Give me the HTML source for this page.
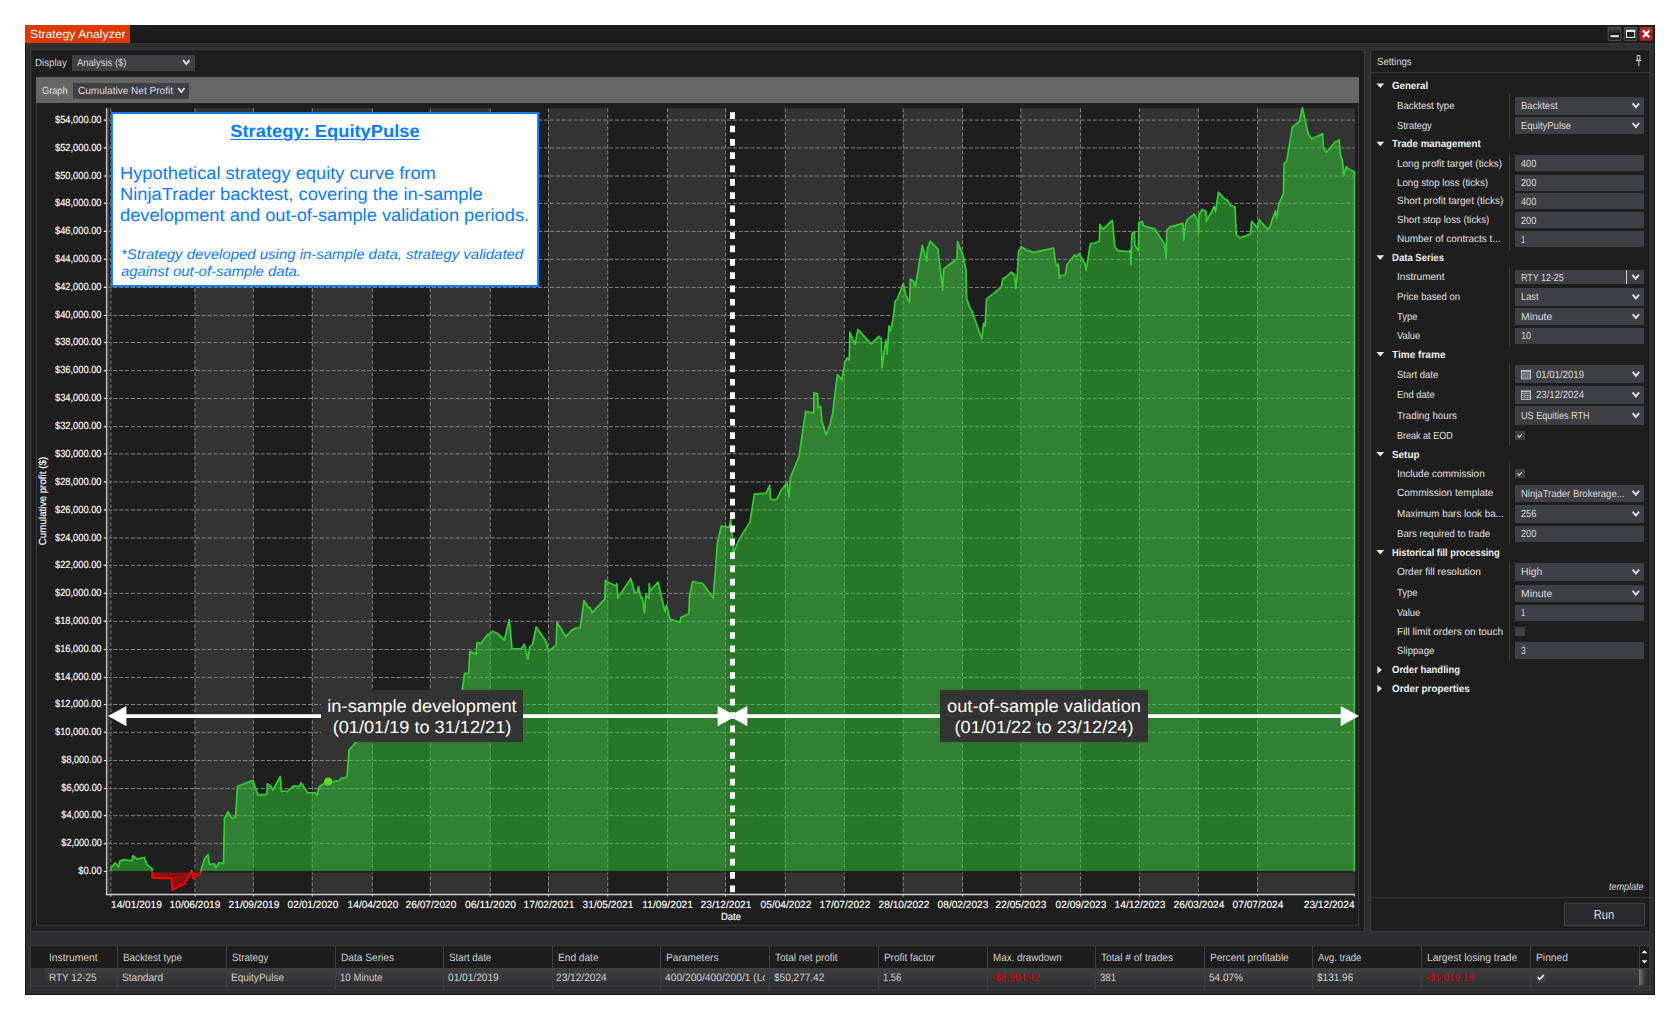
<!DOCTYPE html>
<html lang="en"><head><meta charset="utf-8"><title>Strategy Analyzer</title>
<style>
html,body{margin:0;padding:0;background:#ffffff;}
body{width:1680px;height:1020px;position:relative;overflow:hidden;font-family:"Liberation Sans","DejaVu Sans",sans-serif;}
body>div,body>svg,body>span{position:absolute;}
.t{white-space:nowrap;display:block;text-rendering:geometricPrecision;}
.w{-webkit-text-stroke:0.15px #ffffff;}
</style></head><body>
<div style="left:25.00px;top:25.00px;width:1630.00px;height:969.80px;background:#2e2e31;box-shadow:inset 0 0 0 1px #151516;"></div>
<div style="left:25.00px;top:25.00px;width:1630.00px;height:17.70px;background:#1c1c1c;"></div>
<div style="left:26.00px;top:42.70px;width:1628.00px;height:1.30px;background:#37373a;"></div>
<div style="left:25.00px;top:25.00px;width:105.00px;height:18.20px;background:#dc3a00;"></div>
<span class="t" style="font-size:11.8px;line-height:15px;top:27.00px;color:#ffffff;left:29.60px;transform-origin:0 50%;transform:scaleX(1.0339);">Strategy Analyzer</span>
<svg style="left:1606px;top:25px" width="49" height="18" viewBox="1606 25 49 18">
<defs>
<linearGradient id="gb" x1="0" y1="0" x2="0" y2="1"><stop offset="0" stop-color="#4c4c4e"/><stop offset="0.5" stop-color="#1d1d1e"/><stop offset="1" stop-color="#2c2c2d"/></linearGradient>
<linearGradient id="gr" x1="0" y1="0" x2="0" y2="1"><stop offset="0" stop-color="#c4343e"/><stop offset="0.5" stop-color="#a8121c"/><stop offset="1" stop-color="#b52732"/></linearGradient>
</defs>
<rect x="1608.2" y="27.2" width="12.8" height="13.4" rx="1" fill="url(#gb)" stroke="#5c5c5e" stroke-width="0.8"/>
<rect x="1624.2" y="27.2" width="12.8" height="13.4" rx="1" fill="url(#gb)" stroke="#5c5c5e" stroke-width="0.8"/>
<rect x="1639.8" y="27.2" width="12.8" height="13.4" rx="1" fill="url(#gr)" stroke="#7a3038" stroke-width="0.8"/>
<rect x="1610.6" y="35.2" width="8.2" height="1.9" fill="#f4f4f4"/>
<rect x="1626.5" y="30.4" width="8.2" height="7" fill="none" stroke="#f4f4f4" stroke-width="1"/>
<rect x="1626" y="29.9" width="9.2" height="2" fill="#f4f4f4"/>
<path d="M1643 30.6 L1649.4 37.2 M1649.4 30.6 L1643 37.2" stroke="#ffffff" stroke-width="2.2"/>
</svg>
<div style="left:30.00px;top:48.70px;width:1335.00px;height:883.00px;background:#1e1e1e;box-shadow:inset 0 0 0 1.3px #38383b;"></div>
<span class="t" style="font-size:10.3px;line-height:13px;top:57.00px;color:#dcdcdc;left:35.10px;transform-origin:0 50%;transform:scaleX(0.9418);">Display</span>
<div style="left:72.00px;top:54.50px;width:123.20px;height:16.50px;background:#3f3f46;"></div>
<span class="t" style="font-size:10.3px;line-height:13px;top:57.00px;color:#dcdcdc;left:76.80px;transform-origin:0 50%;transform:scaleX(0.9201);">Analysis ($)</span>
<div style="left:36.00px;top:77.00px;width:1323.00px;height:848.80px;background:#1e1e1e;box-shadow:inset 0 0 0 1px #3a3a3c;"></div>
<div style="left:36.00px;top:77.10px;width:1322.90px;height:26.20px;background:#666666;"></div>
<span class="t" style="font-size:10.3px;line-height:13px;top:85.00px;color:#e0e0e0;left:41.60px;transform-origin:0 50%;transform:scaleX(0.8943);">Graph</span>
<div style="left:72.90px;top:82.60px;width:116.10px;height:16.10px;background:#3f3f46;"></div>
<span class="t" style="font-size:10.3px;line-height:13px;top:85.00px;color:#dcdcdc;left:77.60px;transform-origin:0 50%;transform:scaleX(0.9764);">Cumulative Net Profit</span>
<svg style="left:0;top:0" width="1680" height="1020" viewBox="0 0 1680 1020">
<rect x="195.0" y="108.3" width="58.30" height="785.50" fill="#333333"/>
<rect x="312.3" y="108.3" width="60.00" height="785.50" fill="#333333"/>
<rect x="430.3" y="108.3" width="59.90" height="785.50" fill="#333333"/>
<rect x="548.5" y="108.3" width="59.20" height="785.50" fill="#333333"/>
<rect x="667.4" y="108.3" width="58.20" height="785.50" fill="#333333"/>
<rect x="785.3" y="108.3" width="59.00" height="785.50" fill="#333333"/>
<rect x="903.2" y="108.3" width="59.30" height="785.50" fill="#333333"/>
<rect x="1020.9" y="108.3" width="59.70" height="785.50" fill="#333333"/>
<rect x="1139.4" y="108.3" width="58.90" height="785.50" fill="#333333"/>
<rect x="1257.6" y="108.3" width="97.30" height="785.50" fill="#333333"/>
<path d="M107.4 843.6H1354.9M107.4 815.7H1354.9M107.4 788.5H1354.9M107.4 760.5H1354.9M107.4 732.4H1354.9M107.4 704.5H1354.9M107.4 677.5H1354.9M107.4 649.5H1354.9M107.4 621.4H1354.9M107.4 593.4H1354.9M107.4 565.4H1354.9M107.4 538.0H1354.9M107.4 509.9H1354.9M107.4 481.9H1354.9M107.4 453.85H1354.9M107.4 426.6H1354.9M107.4 398.5H1354.9M107.4 370.6H1354.9M107.4 342.5H1354.9M107.4 315.5H1354.9M107.4 287.45H1354.9M107.4 259.4H1354.9M107.4 231.45H1354.9M107.4 203.4H1354.9M107.4 176.0H1354.9M107.4 147.9H1354.9M107.4 120.05H1354.9" stroke="#848484" stroke-width="1" stroke-dasharray="4.05 1.85" fill="none"/>
<path d="M110.85 108.3V893.8M195.0 108.3V893.8M253.3 108.3V893.8M312.3 108.3V893.8M372.3 108.3V893.8M430.3 108.3V893.8M490.2 108.3V893.8M548.5 108.3V893.8M607.7 108.3V893.8M667.4 108.3V893.8M725.6 108.3V893.8M785.3 108.3V893.8M844.3 108.3V893.8M903.2 108.3V893.8M962.5 108.3V893.8M1020.9 108.3V893.8M1080.6 108.3V893.8M1139.4 108.3V893.8M1198.3 108.3V893.8M1257.6 108.3V893.8" stroke="#828282" stroke-width="1" stroke-dasharray="4.0 2.0" fill="none"/>
<path d="M110.4 871.5 L110.4 870.7 L111.4 867.1 L115.2 863.0 L118.8 867.1 L119.7 861.1 L123.9 859.6 L132.0 860.9 L133.0 855.6 L136.9 859.2 L144.2 857.5 L147.1 864.9 L152.1 868.8 L152.1 871.5 L152.1 871.5 L163.6 871.5 L171.5 871.5 L172.2 871.5 L179.5 871.5 L184.3 871.5 L190.6 871.5 L191.7 870.7 L192.7 871.5 L199.6 871.5 L200.6 871.5 L204.6 858.8 L208.2 854.5 L209.2 864.3 L214.6 863.9 L215.6 868.1 L219.0 862.6 L223.5 863.7 L224.5 818.2 L228.0 811.8 L231.8 818.2 L235.6 817.1 L237.5 786.2 L252.8 780.4 L257.7 794.5 L266.8 794.5 L267.5 783.8 L270.7 785.9 L272.9 790.1 L280.2 776.6 L281.5 791.7 L284.0 791.0 L287.2 791.7 L293.6 785.9 L299.7 786.3 L301.0 782.7 L307.6 792.7 L315.2 792.8 L317.1 795.3 L319.3 786.8 L324.1 783.5 L328.2 781.6 L332.4 781.6 L339.4 780.7 L341.3 778.4 L347.1 777.1 L349.0 750.1 L356.0 742.1 L462.3 690.3 L464.5 673.7 L468.7 673.1 L469.9 651.2 L476.3 654.1 L477.0 642.6 L480.8 643.5 L487.8 634.3 L489.1 634.6 L492.9 631.2 L498.0 634.0 L504.4 640.0 L509.2 619.6 L512.0 648.6 L520.9 648.9 L524.4 644.2 L527.9 659.4 L529.8 646.7 L532.4 645.0 L536.2 627.0 L545.8 641.0 L548.6 651.4 L556.2 645.0 L557.0 622.1 L565.8 636.5 L571.9 630.1 L576.3 628.0 L580.2 627.8 L584.0 600.6 L588.5 607.8 L589.7 607.2 L592.3 612.6 L605.0 598.8 L605.3 580.5 L610.4 583.5 L616.1 586.0 L616.8 583.5 L617.8 598.1 L630.8 578.4 L634.6 592.6 L637.4 592.4 L638.4 586.4 L641.0 598.1 L642.2 597.5 L644.5 612.8 L645.8 594.9 L648.9 598.5 L649.3 583.5 L649.9 591.1 L658.2 582.2 L664.9 611.5 L666.5 605.1 L670.0 619.1 L680.2 622.3 L680.7 617.5 L688.8 613.8 L689.6 595.6 L692.6 581.6 L702.8 583.7 L713.3 598.1 L717.4 543.3 L721.2 526.1 L729.2 527.4 L730.8 519.8 L733.4 552.9 L739.1 539.5 L749.9 522.3 L754.4 494.2 L766.1 493.2 L769.7 485.3 L770.3 499.3 L776.7 499.6 L780.9 490.7 L786.9 483.0 L789.1 496.8 L790.3 477.9 L799.0 456.9 L805.6 411.7 L813.7 412.9 L814.0 392.8 L817.5 393.8 L818.1 407.8 L820.7 406.6 L821.9 421.2 L826.0 434.9 L829.8 425.7 L832.8 412.9 L834.2 400.0 L837.4 374.7 L841.9 379.8 L845.0 362.4 L847.0 357.9 L849.2 360.2 L849.9 332.4 L854.9 344.3 L858.0 329.5 L871.2 343.9 L878.8 336.5 L881.4 338.8 L882.0 367.9 L885.8 339.8 L887.1 354.1 L889.0 326.1 L890.5 330.9 L893.1 319.1 L895.1 301.0 L897.0 299.9 L903.2 283.7 L906.1 296.4 L909.6 302.4 L910.4 279.2 L913.4 281.1 L915.3 286.8 L922.3 245.4 L926.8 261.4 L927.4 248.6 L930.2 241.2 L937.8 248.9 L942.7 290.0 L943.6 269.0 L957.0 258.8 L957.6 241.6 L963.3 256.3 L966.0 270.3 L966.5 298.3 L969.4 306.6 L972.6 313.0 L981.8 338.8 L983.6 323.3 L985.2 326.1 L986.5 299.1 L1001.3 287.1 L1003.0 278.2 L1005.1 277.9 L1011.5 272.2 L1013.4 274.4 L1014.4 274.1 L1015.7 288.4 L1017.2 276.7 L1018.5 251.8 L1021.4 246.7 L1026.2 249.9 L1033.2 252.4 L1053.5 248.2 L1055.7 263.3 L1058.0 267.1 L1058.4 263.9 L1059.3 278.2 L1060.6 275.4 L1065.3 275.1 L1066.9 264.5 L1074.6 255.0 L1075.8 256.9 L1079.4 253.7 L1085.4 265.2 L1086.0 270.3 L1090.5 243.5 L1095.0 243.1 L1099.4 241.2 L1099.8 224.4 L1102.7 229.3 L1112.3 220.5 L1114.8 246.8 L1117.8 250.7 L1129.2 251.6 L1130.5 250.0 L1131.0 264.7 L1131.8 234.1 L1134.3 231.6 L1134.9 245.6 L1138.4 250.7 L1138.8 222.6 L1142.2 221.4 L1143.5 225.8 L1154.7 228.8 L1164.5 244.3 L1166.1 257.7 L1166.8 230.0 L1170.3 226.8 L1183.0 223.3 L1183.7 239.8 L1185.6 224.5 L1187.5 219.4 L1194.2 214.1 L1198.1 221.4 L1198.6 233.5 L1199.0 215.0 L1202.1 209.5 L1206.0 211.2 L1206.6 221.0 L1214.2 206.5 L1215.5 211.8 L1218.4 192.4 L1225.1 199.4 L1227.0 199.7 L1230.2 205.0 L1235.0 207.1 L1236.3 234.7 L1239.7 237.9 L1250.6 234.1 L1251.6 221.4 L1257.6 228.0 L1259.2 219.8 L1267.8 229.6 L1269.7 227.1 L1275.4 210.9 L1276.7 218.2 L1278.6 204.8 L1283.5 193.1 L1284.1 163.2 L1286.7 161.3 L1292.4 126.9 L1299.4 121.5 L1302.3 107.7 L1308.3 133.9 L1311.9 138.7 L1322.6 133.9 L1323.3 147.9 L1326.4 152.3 L1335.1 142.1 L1339.2 139.9 L1340.2 154.9 L1342.5 160.9 L1343.7 175.3 L1346.3 166.6 L1347.8 168.7 L1354.3 171.8 L1354.3 871.5 Z" fill="rgba(50,205,50,0.5)"/>
<path d="M152.1 871.5 L152.1 871.6 L152.1 877.7 L163.6 878.3 L171.5 878.1 L172.2 890.2 L179.5 886.0 L184.3 884.3 L190.6 872.6 L191.2 871.5 Z" fill="rgba(255,0,0,0.5)"/>
<path d="M191.8 871.5 L192.7 878.3 L199.6 874.7 L200.6 871.6 L200.6 871.5 Z" fill="rgba(255,0,0,0.5)"/>
<path d="M107.4 871.7H1354.9" stroke="#1d1e1d" stroke-width="1.4" fill="none"/>
<path d="M110.4 871.5 L110.4 870.7 L111.4 867.1 L115.2 863.0 L118.8 867.1 L119.7 861.1 L123.9 859.6 L132.0 860.9 L133.0 855.6 L136.9 859.2 L144.2 857.5 L147.1 864.9 L152.1 868.8 L152.1 871.5" fill="none" stroke="#32cd32" stroke-width="1.75" stroke-linejoin="round"/>
<path d="M152.1 871.5 L152.1 871.6 L152.1 877.7 L163.6 878.3 L171.5 878.1 L172.2 890.2 L179.5 886.0 L184.3 884.3 L190.6 872.6 L191.2 871.5" fill="none" stroke="#ff0000" stroke-width="1.9" stroke-linejoin="round"/>
<path d="M191.2 871.5 L191.7 870.7 L191.8 871.5" fill="none" stroke="#32cd32" stroke-width="1.75" stroke-linejoin="round"/>
<path d="M191.8 871.5 L192.7 878.3 L199.6 874.7 L200.6 871.6 L200.6 871.5" fill="none" stroke="#ff0000" stroke-width="1.9" stroke-linejoin="round"/>
<path d="M200.6 871.5 L204.6 858.8 L208.2 854.5 L209.2 864.3 L214.6 863.9 L215.6 868.1 L219.0 862.6 L223.5 863.7 L224.5 818.2 L228.0 811.8 L231.8 818.2 L235.6 817.1 L237.5 786.2 L252.8 780.4 L257.7 794.5 L266.8 794.5 L267.5 783.8 L270.7 785.9 L272.9 790.1 L280.2 776.6 L281.5 791.7 L284.0 791.0 L287.2 791.7 L293.6 785.9 L299.7 786.3 L301.0 782.7 L307.6 792.7 L315.2 792.8 L317.1 795.3 L319.3 786.8 L324.1 783.5 L328.2 781.6 L332.4 781.6 L339.4 780.7 L341.3 778.4 L347.1 777.1 L349.0 750.1 L356.0 742.1 L462.3 690.3 L464.5 673.7 L468.7 673.1 L469.9 651.2 L476.3 654.1 L477.0 642.6 L480.8 643.5 L487.8 634.3 L489.1 634.6 L492.9 631.2 L498.0 634.0 L504.4 640.0 L509.2 619.6 L512.0 648.6 L520.9 648.9 L524.4 644.2 L527.9 659.4 L529.8 646.7 L532.4 645.0 L536.2 627.0 L545.8 641.0 L548.6 651.4 L556.2 645.0 L557.0 622.1 L565.8 636.5 L571.9 630.1 L576.3 628.0 L580.2 627.8 L584.0 600.6 L588.5 607.8 L589.7 607.2 L592.3 612.6 L605.0 598.8 L605.3 580.5 L610.4 583.5 L616.1 586.0 L616.8 583.5 L617.8 598.1 L630.8 578.4 L634.6 592.6 L637.4 592.4 L638.4 586.4 L641.0 598.1 L642.2 597.5 L644.5 612.8 L645.8 594.9 L648.9 598.5 L649.3 583.5 L649.9 591.1 L658.2 582.2 L664.9 611.5 L666.5 605.1 L670.0 619.1 L680.2 622.3 L680.7 617.5 L688.8 613.8 L689.6 595.6 L692.6 581.6 L702.8 583.7 L713.3 598.1 L717.4 543.3 L721.2 526.1 L729.2 527.4 L730.8 519.8 L733.4 552.9 L739.1 539.5 L749.9 522.3 L754.4 494.2 L766.1 493.2 L769.7 485.3 L770.3 499.3 L776.7 499.6 L780.9 490.7 L786.9 483.0 L789.1 496.8 L790.3 477.9 L799.0 456.9 L805.6 411.7 L813.7 412.9 L814.0 392.8 L817.5 393.8 L818.1 407.8 L820.7 406.6 L821.9 421.2 L826.0 434.9 L829.8 425.7 L832.8 412.9 L834.2 400.0 L837.4 374.7 L841.9 379.8 L845.0 362.4 L847.0 357.9 L849.2 360.2 L849.9 332.4 L854.9 344.3 L858.0 329.5 L871.2 343.9 L878.8 336.5 L881.4 338.8 L882.0 367.9 L885.8 339.8 L887.1 354.1 L889.0 326.1 L890.5 330.9 L893.1 319.1 L895.1 301.0 L897.0 299.9 L903.2 283.7 L906.1 296.4 L909.6 302.4 L910.4 279.2 L913.4 281.1 L915.3 286.8 L922.3 245.4 L926.8 261.4 L927.4 248.6 L930.2 241.2 L937.8 248.9 L942.7 290.0 L943.6 269.0 L957.0 258.8 L957.6 241.6 L963.3 256.3 L966.0 270.3 L966.5 298.3 L969.4 306.6 L972.6 313.0 L981.8 338.8 L983.6 323.3 L985.2 326.1 L986.5 299.1 L1001.3 287.1 L1003.0 278.2 L1005.1 277.9 L1011.5 272.2 L1013.4 274.4 L1014.4 274.1 L1015.7 288.4 L1017.2 276.7 L1018.5 251.8 L1021.4 246.7 L1026.2 249.9 L1033.2 252.4 L1053.5 248.2 L1055.7 263.3 L1058.0 267.1 L1058.4 263.9 L1059.3 278.2 L1060.6 275.4 L1065.3 275.1 L1066.9 264.5 L1074.6 255.0 L1075.8 256.9 L1079.4 253.7 L1085.4 265.2 L1086.0 270.3 L1090.5 243.5 L1095.0 243.1 L1099.4 241.2 L1099.8 224.4 L1102.7 229.3 L1112.3 220.5 L1114.8 246.8 L1117.8 250.7 L1129.2 251.6 L1130.5 250.0 L1131.0 264.7 L1131.8 234.1 L1134.3 231.6 L1134.9 245.6 L1138.4 250.7 L1138.8 222.6 L1142.2 221.4 L1143.5 225.8 L1154.7 228.8 L1164.5 244.3 L1166.1 257.7 L1166.8 230.0 L1170.3 226.8 L1183.0 223.3 L1183.7 239.8 L1185.6 224.5 L1187.5 219.4 L1194.2 214.1 L1198.1 221.4 L1198.6 233.5 L1199.0 215.0 L1202.1 209.5 L1206.0 211.2 L1206.6 221.0 L1214.2 206.5 L1215.5 211.8 L1218.4 192.4 L1225.1 199.4 L1227.0 199.7 L1230.2 205.0 L1235.0 207.1 L1236.3 234.7 L1239.7 237.9 L1250.6 234.1 L1251.6 221.4 L1257.6 228.0 L1259.2 219.8 L1267.8 229.6 L1269.7 227.1 L1275.4 210.9 L1276.7 218.2 L1278.6 204.8 L1283.5 193.1 L1284.1 163.2 L1286.7 161.3 L1292.4 126.9 L1299.4 121.5 L1302.3 107.7 L1308.3 133.9 L1311.9 138.7 L1322.6 133.9 L1323.3 147.9 L1326.4 152.3 L1335.1 142.1 L1339.2 139.9 L1340.2 154.9 L1342.5 160.9 L1343.7 175.3 L1346.3 166.6 L1347.8 168.7 L1354.3 171.8 L1354.3 871.5" fill="none" stroke="#32cd32" stroke-width="1.75" stroke-linejoin="round"/>
<circle cx="328.2" cy="781.6" r="4" fill="#62d926"/>
<path d="M106.65 108.3V895.2" stroke="#c4c4c4" stroke-width="1.5" fill="none"/>
<path d="M108.2 108.3V893.5" stroke="#484848" stroke-width="1.4" fill="none"/>
<path d="M105.9 894.5H1354.9" stroke="#d0d0d0" stroke-width="1.5" fill="none"/>
<path d="M103.8 871.5H106M103.8 843.6H106M103.8 815.7H106M103.8 788.5H106M103.8 760.5H106M103.8 732.4H106M103.8 704.5H106M103.8 677.5H106M103.8 649.5H106M103.8 621.4H106M103.8 593.4H106M103.8 565.4H106M103.8 538.0H106M103.8 509.9H106M103.8 481.9H106M103.8 453.85H106M103.8 426.6H106M103.8 398.5H106M103.8 370.6H106M103.8 342.5H106M103.8 315.5H106M103.8 287.45H106M103.8 259.4H106M103.8 231.45H106M103.8 203.4H106M103.8 176.0H106M103.8 147.9H106M103.8 120.05H106" stroke="#f0f0f0" stroke-width="1.2" fill="none"/>
<path d="M110.85 895H110.85V896.6M195.0 895H195.0V896.6M253.3 895H253.3V896.6M312.3 895H312.3V896.6M372.3 895H372.3V896.6M430.3 895H430.3V896.6M490.2 895H490.2V896.6M548.5 895H548.5V896.6M607.7 895H607.7V896.6M667.4 895H667.4V896.6M725.6 895H725.6V896.6M785.3 895H785.3V896.6M844.3 895H844.3V896.6M903.2 895H903.2V896.6M962.5 895H962.5V896.6M1020.9 895H1020.9V896.6M1080.6 895H1080.6V896.6M1139.4 895H1139.4V896.6M1198.3 895H1198.3V896.6M1257.6 895H1257.6V896.6M1354.4 895H1354.4V896.6" stroke="#d0d0d0" stroke-width="1" fill="none"/>
<path d="M732.5 112.3V892.4" stroke="#ffffff" stroke-width="5" stroke-dasharray="6.7 6.63" fill="none"/>
<path d="M121 716.1H321.5M523 716.1H722M743 716.1H940M1147.5 716.1H1345" stroke="#ffffff" stroke-width="3.9" fill="none"/>
<path d="M108 716.1L126.4 705.9V726.3Z M1359 716.1L1340.7 705.9V726.3Z M736 716.1L717.65 705.9V726.3Z M729 716.1L747.35 705.9V726.3Z" fill="#ffffff"/>
</svg>
<span class="t w" style="font-size:10.3px;line-height:13px;top:865.00px;color:#ffffff;right:1578.70px;transform-origin:100% 50%;transform:scaleX(0.9115);">$0.00</span>
<span class="t w" style="font-size:10.3px;line-height:13px;top:837.00px;color:#ffffff;right:1578.70px;transform-origin:100% 50%;transform:scaleX(0.8840);">$2,000.00</span>
<span class="t w" style="font-size:10.3px;line-height:13px;top:809.00px;color:#ffffff;right:1578.70px;transform-origin:100% 50%;transform:scaleX(0.8840);">$4,000.00</span>
<span class="t w" style="font-size:10.3px;line-height:13px;top:782.00px;color:#ffffff;right:1578.70px;transform-origin:100% 50%;transform:scaleX(0.8840);">$6,000.00</span>
<span class="t w" style="font-size:10.3px;line-height:13px;top:754.00px;color:#ffffff;right:1578.70px;transform-origin:100% 50%;transform:scaleX(0.8840);">$8,000.00</span>
<span class="t w" style="font-size:10.3px;line-height:13px;top:726.00px;color:#ffffff;right:1578.70px;transform-origin:100% 50%;transform:scaleX(0.9040);">$10,000.00</span>
<span class="t w" style="font-size:10.3px;line-height:13px;top:698.00px;color:#ffffff;right:1578.70px;transform-origin:100% 50%;transform:scaleX(0.9040);">$12,000.00</span>
<span class="t w" style="font-size:10.3px;line-height:13px;top:671.00px;color:#ffffff;right:1578.70px;transform-origin:100% 50%;transform:scaleX(0.9040);">$14,000.00</span>
<span class="t w" style="font-size:10.3px;line-height:13px;top:643.00px;color:#ffffff;right:1578.70px;transform-origin:100% 50%;transform:scaleX(0.9040);">$16,000.00</span>
<span class="t w" style="font-size:10.3px;line-height:13px;top:615.00px;color:#ffffff;right:1578.70px;transform-origin:100% 50%;transform:scaleX(0.9040);">$18,000.00</span>
<span class="t w" style="font-size:10.3px;line-height:13px;top:587.00px;color:#ffffff;right:1578.70px;transform-origin:100% 50%;transform:scaleX(0.9040);">$20,000.00</span>
<span class="t w" style="font-size:10.3px;line-height:13px;top:559.00px;color:#ffffff;right:1578.70px;transform-origin:100% 50%;transform:scaleX(0.9040);">$22,000.00</span>
<span class="t w" style="font-size:10.3px;line-height:13px;top:532.00px;color:#ffffff;right:1578.70px;transform-origin:100% 50%;transform:scaleX(0.9040);">$24,000.00</span>
<span class="t w" style="font-size:10.3px;line-height:13px;top:504.00px;color:#ffffff;right:1578.70px;transform-origin:100% 50%;transform:scaleX(0.9040);">$26,000.00</span>
<span class="t w" style="font-size:10.3px;line-height:13px;top:476.00px;color:#ffffff;right:1578.70px;transform-origin:100% 50%;transform:scaleX(0.9040);">$28,000.00</span>
<span class="t w" style="font-size:10.3px;line-height:13px;top:448.00px;color:#ffffff;right:1578.70px;transform-origin:100% 50%;transform:scaleX(0.9040);">$30,000.00</span>
<span class="t w" style="font-size:10.3px;line-height:13px;top:420.00px;color:#ffffff;right:1578.70px;transform-origin:100% 50%;transform:scaleX(0.9040);">$32,000.00</span>
<span class="t w" style="font-size:10.3px;line-height:13px;top:392.00px;color:#ffffff;right:1578.70px;transform-origin:100% 50%;transform:scaleX(0.9040);">$34,000.00</span>
<span class="t w" style="font-size:10.3px;line-height:13px;top:364.00px;color:#ffffff;right:1578.70px;transform-origin:100% 50%;transform:scaleX(0.9040);">$36,000.00</span>
<span class="t w" style="font-size:10.3px;line-height:13px;top:336.00px;color:#ffffff;right:1578.70px;transform-origin:100% 50%;transform:scaleX(0.9040);">$38,000.00</span>
<span class="t w" style="font-size:10.3px;line-height:13px;top:309.00px;color:#ffffff;right:1578.70px;transform-origin:100% 50%;transform:scaleX(0.9040);">$40,000.00</span>
<span class="t w" style="font-size:10.3px;line-height:13px;top:281.00px;color:#ffffff;right:1578.70px;transform-origin:100% 50%;transform:scaleX(0.9040);">$42,000.00</span>
<span class="t w" style="font-size:10.3px;line-height:13px;top:253.00px;color:#ffffff;right:1578.70px;transform-origin:100% 50%;transform:scaleX(0.9040);">$44,000.00</span>
<span class="t w" style="font-size:10.3px;line-height:13px;top:225.00px;color:#ffffff;right:1578.70px;transform-origin:100% 50%;transform:scaleX(0.9040);">$46,000.00</span>
<span class="t w" style="font-size:10.3px;line-height:13px;top:197.00px;color:#ffffff;right:1578.70px;transform-origin:100% 50%;transform:scaleX(0.9040);">$48,000.00</span>
<span class="t w" style="font-size:10.3px;line-height:13px;top:170.00px;color:#ffffff;right:1578.70px;transform-origin:100% 50%;transform:scaleX(0.9040);">$50,000.00</span>
<span class="t w" style="font-size:10.3px;line-height:13px;top:142.00px;color:#ffffff;right:1578.70px;transform-origin:100% 50%;transform:scaleX(0.9040);">$52,000.00</span>
<span class="t w" style="font-size:10.3px;line-height:13px;top:114.00px;color:#ffffff;right:1578.70px;transform-origin:100% 50%;transform:scaleX(0.9040);">$54,000.00</span>
<span class="t w" style="font-size:10.3px;line-height:13px;top:899.00px;color:#ffffff;left:110.80px;transform-origin:0 50%;transform:scaleX(0.9855);">14/01/2019</span>
<span class="t w" style="font-size:10.3px;line-height:13px;top:899.00px;color:#ffffff;left:-104.70px;width:600px;text-align:center;transform-origin:50% 50%;transform:scaleX(0.9855);">10/06/2019</span>
<span class="t w" style="font-size:10.3px;line-height:13px;top:899.00px;color:#ffffff;left:-46.40px;width:600px;text-align:center;transform-origin:50% 50%;transform:scaleX(0.9855);">21/09/2019</span>
<span class="t w" style="font-size:10.3px;line-height:13px;top:899.00px;color:#ffffff;left:12.60px;width:600px;text-align:center;transform-origin:50% 50%;transform:scaleX(0.9855);">02/01/2020</span>
<span class="t w" style="font-size:10.3px;line-height:13px;top:899.00px;color:#ffffff;left:72.60px;width:600px;text-align:center;transform-origin:50% 50%;transform:scaleX(0.9855);">14/04/2020</span>
<span class="t w" style="font-size:10.3px;line-height:13px;top:899.00px;color:#ffffff;left:130.60px;width:600px;text-align:center;transform-origin:50% 50%;transform:scaleX(0.9855);">26/07/2020</span>
<span class="t w" style="font-size:10.3px;line-height:13px;top:899.00px;color:#ffffff;left:190.50px;width:600px;text-align:center;transform-origin:50% 50%;">06/11/2020</span>
<span class="t w" style="font-size:10.3px;line-height:13px;top:899.00px;color:#ffffff;left:248.80px;width:600px;text-align:center;transform-origin:50% 50%;transform:scaleX(0.9855);">17/02/2021</span>
<span class="t w" style="font-size:10.3px;line-height:13px;top:899.00px;color:#ffffff;left:308.00px;width:600px;text-align:center;transform-origin:50% 50%;transform:scaleX(0.9855);">31/05/2021</span>
<span class="t w" style="font-size:10.3px;line-height:13px;top:899.00px;color:#ffffff;left:367.70px;width:600px;text-align:center;transform-origin:50% 50%;">11/09/2021</span>
<span class="t w" style="font-size:10.3px;line-height:13px;top:899.00px;color:#ffffff;left:425.90px;width:600px;text-align:center;transform-origin:50% 50%;transform:scaleX(0.9855);">23/12/2021</span>
<span class="t w" style="font-size:10.3px;line-height:13px;top:899.00px;color:#ffffff;left:485.60px;width:600px;text-align:center;transform-origin:50% 50%;transform:scaleX(0.9855);">05/04/2022</span>
<span class="t w" style="font-size:10.3px;line-height:13px;top:899.00px;color:#ffffff;left:544.60px;width:600px;text-align:center;transform-origin:50% 50%;transform:scaleX(0.9855);">17/07/2022</span>
<span class="t w" style="font-size:10.3px;line-height:13px;top:899.00px;color:#ffffff;left:603.50px;width:600px;text-align:center;transform-origin:50% 50%;transform:scaleX(0.9855);">28/10/2022</span>
<span class="t w" style="font-size:10.3px;line-height:13px;top:899.00px;color:#ffffff;left:662.80px;width:600px;text-align:center;transform-origin:50% 50%;transform:scaleX(0.9855);">08/02/2023</span>
<span class="t w" style="font-size:10.3px;line-height:13px;top:899.00px;color:#ffffff;left:721.20px;width:600px;text-align:center;transform-origin:50% 50%;transform:scaleX(0.9855);">22/05/2023</span>
<span class="t w" style="font-size:10.3px;line-height:13px;top:899.00px;color:#ffffff;left:780.90px;width:600px;text-align:center;transform-origin:50% 50%;transform:scaleX(0.9855);">02/09/2023</span>
<span class="t w" style="font-size:10.3px;line-height:13px;top:899.00px;color:#ffffff;left:839.70px;width:600px;text-align:center;transform-origin:50% 50%;transform:scaleX(0.9855);">14/12/2023</span>
<span class="t w" style="font-size:10.3px;line-height:13px;top:899.00px;color:#ffffff;left:898.60px;width:600px;text-align:center;transform-origin:50% 50%;transform:scaleX(0.9855);">26/03/2024</span>
<span class="t w" style="font-size:10.3px;line-height:13px;top:899.00px;color:#ffffff;left:957.90px;width:600px;text-align:center;transform-origin:50% 50%;transform:scaleX(0.9855);">07/07/2024</span>
<span class="t w" style="font-size:10.3px;line-height:13px;top:899.00px;color:#ffffff;right:325.20px;transform-origin:100% 50%;transform:scaleX(0.9855);">23/12/2024</span>
<span class="t w" style="font-size:10.3px;line-height:13px;top:911.00px;color:#ffffff;left:430.50px;width:600px;text-align:center;transform-origin:50% 50%;transform:scaleX(0.9189);">Date</span>
<span class="t w" style="font-size:10.3px;line-height:14px;color:#ffffff;left:-255.9px;top:494.3px;width:600px;text-align:center;transform:rotate(-90deg) scaleX(0.955);transform-origin:50% 50%;">Cumulative profit ($)</span>
<div style="left:111.40px;top:112.30px;width:427.70px;height:174.30px;background:#ffffff;box-shadow:inset 0 0 0 1.9px #0a7cff;"></div>
<span class="t" style="font-size:17.6px;line-height:21px;top:121.00px;color:#0a7cff;font-weight:bold;left:25.30px;width:600px;text-align:center;transform-origin:50% 50%;transform:scaleX(1.0415);text-decoration:underline;text-decoration-thickness:1.2px;text-underline-offset:1.6px;">Strategy: EquityPulse</span>
<span class="t" style="font-size:17.6px;line-height:21px;top:163.00px;color:#0a7cff;left:119.80px;transform-origin:0 50%;transform:scaleX(1.0384);">Hypothetical strategy equity curve from</span>
<span class="t" style="font-size:17.6px;line-height:21px;top:184.00px;color:#0a7cff;left:119.80px;transform-origin:0 50%;transform:scaleX(1.0412);">NinjaTrader backtest, covering the in-sample</span>
<span class="t" style="font-size:17.6px;line-height:21px;top:205.00px;color:#0a7cff;left:119.80px;transform-origin:0 50%;transform:scaleX(1.0379);">development and out-of-sample validation periods.</span>
<span class="t" style="font-size:14.1px;line-height:17px;top:246.00px;color:#0a7cff;font-style:italic;left:121.40px;transform-origin:0 50%;transform:scaleX(1.0606);">*Strategy developed using in-sample data, strategy validated</span>
<span class="t" style="font-size:14.1px;line-height:17px;top:263.00px;color:#0a7cff;font-style:italic;left:121.40px;transform-origin:0 50%;transform:scaleX(1.0539);">against out-of-sample data.</span>
<div style="left:321.30px;top:690.00px;width:201.80px;height:52.00px;background:#333333;"></div>
<div style="left:940.00px;top:690.00px;width:207.70px;height:52.00px;background:#333333;"></div>
<span class="t" style="font-size:17.6px;line-height:21px;top:696.00px;color:#ffffff;left:122.00px;width:600px;text-align:center;transform-origin:50% 50%;transform:scaleX(1.0412);">in-sample development</span>
<span class="t" style="font-size:17.6px;line-height:21px;top:717.00px;color:#ffffff;left:122.10px;width:600px;text-align:center;transform-origin:50% 50%;transform:scaleX(1.0315);">(01/01/19 to 31/12/21)</span>
<span class="t" style="font-size:17.6px;line-height:21px;top:696.00px;color:#ffffff;left:743.70px;width:600px;text-align:center;transform-origin:50% 50%;transform:scaleX(1.0386);">out-of-sample validation</span>
<span class="t" style="font-size:17.6px;line-height:21px;top:717.00px;color:#ffffff;left:743.80px;width:600px;text-align:center;transform-origin:50% 50%;transform:scaleX(1.0338);">(01/01/22 to 23/12/24)</span>
<div style="left:1370.00px;top:48.70px;width:280.60px;height:883.00px;background:#1e1e1e;box-shadow:inset 0 0 0 1.3px #38383b;"></div>
<div style="left:1370.00px;top:72.20px;width:280.60px;height:1.00px;background:#38383b;"></div>
<span class="t" style="font-size:10.3px;line-height:13px;top:56.00px;color:#dcdcdc;left:1376.60px;transform-origin:0 50%;transform:scaleX(0.9296);">Settings</span>
<span class="t" style="font-size:10.3px;line-height:13px;top:80.00px;color:#f0f0f0;font-weight:bold;left:1391.80px;transform-origin:0 50%;transform:scaleX(0.9411);">General</span>
<div style="left:1509.20px;top:94.00px;width:0.80px;height:43.00px;background:#38383b;"></div>
<span class="t" style="font-size:10.3px;line-height:13px;top:100.00px;color:#e0e0e0;left:1396.60px;transform-origin:0 50%;transform:scaleX(0.9302);">Backtest type</span>
<div style="left:1515.00px;top:96.80px;width:128.60px;height:17.80px;background:#3f3f46;"></div>
<span class="t" style="font-size:10.3px;line-height:13px;top:100.00px;color:#dcdcdc;left:1520.60px;transform-origin:0 50%;transform:scaleX(0.9266);">Backtest</span>
<span class="t" style="font-size:10.3px;line-height:13px;top:120.00px;color:#e0e0e0;left:1396.60px;transform-origin:0 50%;transform:scaleX(0.9072);">Strategy</span>
<div style="left:1515.00px;top:117.00px;width:128.60px;height:16.80px;background:#3f3f46;"></div>
<span class="t" style="font-size:10.3px;line-height:13px;top:120.00px;color:#dcdcdc;left:1520.60px;transform-origin:0 50%;transform:scaleX(0.9193);">EquityPulse</span>
<span class="t" style="font-size:10.3px;line-height:13px;top:138.00px;color:#f0f0f0;font-weight:bold;left:1391.80px;transform-origin:0 50%;transform:scaleX(0.9450);">Trade management</span>
<div style="left:1509.20px;top:152.50px;width:0.80px;height:97.50px;background:#38383b;"></div>
<span class="t" style="font-size:10.3px;line-height:13px;top:158.00px;color:#e0e0e0;left:1396.60px;transform-origin:0 50%;transform:scaleX(0.9707);">Long profit target (ticks)</span>
<div style="left:1515.00px;top:155.40px;width:128.60px;height:16.00px;background:#3f3f46;"></div>
<span class="t" style="font-size:10.3px;line-height:13px;top:158.00px;color:#dcdcdc;left:1520.60px;transform-origin:0 50%;transform:scaleX(0.8844);">400</span>
<span class="t" style="font-size:10.3px;line-height:13px;top:177.00px;color:#e0e0e0;left:1396.60px;transform-origin:0 50%;transform:scaleX(0.9409);">Long stop loss (ticks)</span>
<div style="left:1515.00px;top:174.50px;width:128.60px;height:16.00px;background:#3f3f46;"></div>
<span class="t" style="font-size:10.3px;line-height:13px;top:177.00px;color:#dcdcdc;left:1520.60px;transform-origin:0 50%;transform:scaleX(0.8844);">200</span>
<span class="t" style="font-size:10.3px;line-height:13px;top:195.00px;color:#e0e0e0;left:1396.60px;transform-origin:0 50%;transform:scaleX(0.9666);">Short profit target (ticks)</span>
<div style="left:1515.00px;top:193.20px;width:128.60px;height:16.10px;background:#3f3f46;"></div>
<span class="t" style="font-size:10.3px;line-height:13px;top:196.00px;color:#dcdcdc;left:1520.60px;transform-origin:0 50%;transform:scaleX(0.8844);">400</span>
<span class="t" style="font-size:10.3px;line-height:13px;top:214.00px;color:#e0e0e0;left:1396.60px;transform-origin:0 50%;transform:scaleX(0.9368);">Short stop loss (ticks)</span>
<div style="left:1515.00px;top:212.30px;width:128.60px;height:16.10px;background:#3f3f46;"></div>
<span class="t" style="font-size:10.3px;line-height:13px;top:215.00px;color:#dcdcdc;left:1520.60px;transform-origin:0 50%;transform:scaleX(0.8844);">200</span>
<span class="t" style="font-size:10.3px;line-height:13px;top:233.00px;color:#e0e0e0;left:1396.60px;transform-origin:0 50%;transform:scaleX(0.9681);">Number of contracts t...</span>
<div style="left:1515.00px;top:231.40px;width:128.60px;height:15.70px;background:#3f3f46;"></div>
<span class="t" style="font-size:10.3px;line-height:13px;top:234.00px;color:#dcdcdc;left:1520.60px;transform-origin:0 50%;transform:scaleX(0.7324);">1</span>
<span class="t" style="font-size:10.3px;line-height:13px;top:252.00px;color:#f0f0f0;font-weight:bold;left:1391.80px;transform-origin:0 50%;transform:scaleX(0.9268);">Data Series</span>
<div style="left:1509.20px;top:266.50px;width:0.80px;height:80.00px;background:#38383b;"></div>
<span class="t" style="font-size:10.3px;line-height:13px;top:271.00px;color:#e0e0e0;left:1396.60px;transform-origin:0 50%;transform:scaleX(0.9762);">Instrument</span>
<div style="left:1515.00px;top:270.00px;width:128.60px;height:14.30px;background:#3f3f46;"></div>
<span class="t" style="font-size:10.3px;line-height:13px;top:272.00px;color:#dcdcdc;left:1520.60px;transform-origin:0 50%;transform:scaleX(0.8640);">RTY 12-25</span>
<div style="left:1625.60px;top:270.00px;width:0.90px;height:14.30px;background:#d0d0d0;"></div>
<span class="t" style="font-size:10.3px;line-height:13px;top:291.00px;color:#e0e0e0;left:1396.60px;transform-origin:0 50%;transform:scaleX(0.9170);">Price based on</span>
<div style="left:1515.00px;top:288.20px;width:128.60px;height:17.50px;background:#3f3f46;"></div>
<span class="t" style="font-size:10.3px;line-height:13px;top:291.00px;color:#dcdcdc;left:1520.60px;transform-origin:0 50%;transform:scaleX(0.8989);">Last</span>
<span class="t" style="font-size:10.3px;line-height:13px;top:311.00px;color:#e0e0e0;left:1396.60px;transform-origin:0 50%;transform:scaleX(0.9181);">Type</span>
<div style="left:1515.00px;top:308.20px;width:128.60px;height:16.60px;background:#3f3f46;"></div>
<span class="t" style="font-size:10.3px;line-height:13px;top:311.00px;color:#dcdcdc;left:1520.60px;transform-origin:0 50%;transform:scaleX(1.0127);">Minute</span>
<span class="t" style="font-size:10.3px;line-height:13px;top:330.00px;color:#e0e0e0;left:1396.60px;transform-origin:0 50%;transform:scaleX(0.9070);">Value</span>
<div style="left:1515.00px;top:327.50px;width:128.60px;height:16.10px;background:#3f3f46;"></div>
<span class="t" style="font-size:10.3px;line-height:13px;top:330.00px;color:#dcdcdc;left:1520.60px;transform-origin:0 50%;transform:scaleX(0.8894);">10</span>
<span class="t" style="font-size:10.3px;line-height:13px;top:349.00px;color:#f0f0f0;font-weight:bold;left:1391.80px;transform-origin:0 50%;transform:scaleX(0.9769);">Time frame</span>
<div style="left:1509.20px;top:362.50px;width:0.80px;height:83.50px;background:#38383b;"></div>
<span class="t" style="font-size:10.3px;line-height:13px;top:369.00px;color:#e0e0e0;left:1396.60px;transform-origin:0 50%;transform:scaleX(0.9248);">Start date</span>
<div style="left:1515.00px;top:365.40px;width:128.60px;height:17.80px;background:#3f3f46;"></div>
<span class="t" style="font-size:10.3px;line-height:13px;top:369.00px;color:#dcdcdc;left:1535.60px;transform-origin:0 50%;transform:scaleX(0.9312);">01/01/2019</span>
<span class="t" style="font-size:10.3px;line-height:13px;top:389.00px;color:#e0e0e0;left:1396.60px;transform-origin:0 50%;transform:scaleX(0.9143);">End date</span>
<div style="left:1515.00px;top:385.90px;width:128.60px;height:17.90px;background:#3f3f46;"></div>
<span class="t" style="font-size:10.3px;line-height:13px;top:389.00px;color:#dcdcdc;left:1535.60px;transform-origin:0 50%;transform:scaleX(0.9312);">23/12/2024</span>
<span class="t" style="font-size:10.3px;line-height:13px;top:410.00px;color:#e0e0e0;left:1396.60px;transform-origin:0 50%;transform:scaleX(0.9469);">Trading hours</span>
<div style="left:1515.00px;top:406.30px;width:128.60px;height:18.30px;background:#3f3f46;"></div>
<span class="t" style="font-size:10.3px;line-height:13px;top:410.00px;color:#dcdcdc;left:1520.60px;transform-origin:0 50%;transform:scaleX(0.8836);">US Equities RTH</span>
<span class="t" style="font-size:10.3px;line-height:13px;top:430.00px;color:#e0e0e0;left:1396.60px;transform-origin:0 50%;transform:scaleX(0.8767);">Break at EOD</span>
<div style="left:1515.00px;top:430.50px;width:9.90px;height:9.90px;background:#3f3f46;"></div>
<span class="t" style="font-size:10.3px;line-height:13px;top:449.00px;color:#f0f0f0;font-weight:bold;left:1391.80px;transform-origin:0 50%;transform:scaleX(0.9612);">Setup</span>
<div style="left:1509.20px;top:462.50px;width:0.80px;height:81.50px;background:#38383b;"></div>
<span class="t" style="font-size:10.3px;line-height:13px;top:468.00px;color:#e0e0e0;left:1396.60px;transform-origin:0 50%;transform:scaleX(0.9699);">Include commission</span>
<div style="left:1515.00px;top:468.50px;width:9.90px;height:9.90px;background:#3f3f46;"></div>
<span class="t" style="font-size:10.3px;line-height:13px;top:487.00px;color:#e0e0e0;left:1396.60px;transform-origin:0 50%;transform:scaleX(0.9737);">Commission template</span>
<div style="left:1515.00px;top:484.50px;width:128.60px;height:17.50px;background:#3f3f46;"></div>
<span class="t" style="font-size:10.3px;line-height:13px;top:488.00px;color:#dcdcdc;left:1520.60px;transform-origin:0 50%;transform:scaleX(0.9219);">NinjaTrader Brokerage...</span>
<span class="t" style="font-size:10.3px;line-height:13px;top:508.00px;color:#e0e0e0;left:1396.60px;transform-origin:0 50%;transform:scaleX(0.9521);">Maximum bars look ba...</span>
<div style="left:1515.00px;top:505.00px;width:128.60px;height:17.90px;background:#3f3f46;"></div>
<span class="t" style="font-size:10.3px;line-height:13px;top:508.00px;color:#dcdcdc;left:1520.60px;transform-origin:0 50%;transform:scaleX(0.8844);">256</span>
<span class="t" style="font-size:10.3px;line-height:13px;top:528.00px;color:#e0e0e0;left:1396.60px;transform-origin:0 50%;transform:scaleX(0.9358);">Bars required to trade</span>
<div style="left:1515.00px;top:525.50px;width:128.60px;height:16.10px;background:#3f3f46;"></div>
<span class="t" style="font-size:10.3px;line-height:13px;top:528.00px;color:#dcdcdc;left:1520.60px;transform-origin:0 50%;transform:scaleX(0.8844);">200</span>
<span class="t" style="font-size:10.3px;line-height:13px;top:547.00px;color:#f0f0f0;font-weight:bold;left:1391.80px;transform-origin:0 50%;transform:scaleX(0.9005);">Historical fill processing</span>
<div style="left:1509.20px;top:560.50px;width:0.80px;height:100.50px;background:#38383b;"></div>
<span class="t" style="font-size:10.3px;line-height:13px;top:566.00px;color:#e0e0e0;left:1396.60px;transform-origin:0 50%;transform:scaleX(0.9697);">Order fill resolution</span>
<div style="left:1515.00px;top:563.00px;width:128.60px;height:18.00px;background:#3f3f46;"></div>
<span class="t" style="font-size:10.3px;line-height:13px;top:566.00px;color:#dcdcdc;left:1520.60px;transform-origin:0 50%;transform:scaleX(1.0100);">High</span>
<span class="t" style="font-size:10.3px;line-height:13px;top:587.00px;color:#e0e0e0;left:1396.60px;transform-origin:0 50%;transform:scaleX(0.9181);">Type</span>
<div style="left:1515.00px;top:584.50px;width:128.60px;height:17.30px;background:#3f3f46;"></div>
<span class="t" style="font-size:10.3px;line-height:13px;top:588.00px;color:#dcdcdc;left:1520.60px;transform-origin:0 50%;transform:scaleX(1.0127);">Minute</span>
<span class="t" style="font-size:10.3px;line-height:13px;top:607.00px;color:#e0e0e0;left:1396.60px;transform-origin:0 50%;transform:scaleX(0.9070);">Value</span>
<div style="left:1515.00px;top:604.60px;width:128.60px;height:16.00px;background:#3f3f46;"></div>
<span class="t" style="font-size:10.3px;line-height:13px;top:607.00px;color:#dcdcdc;left:1520.60px;transform-origin:0 50%;transform:scaleX(0.7324);">1</span>
<span class="t" style="font-size:10.3px;line-height:13px;top:626.00px;color:#e0e0e0;left:1396.60px;transform-origin:0 50%;transform:scaleX(0.9749);">Fill limit orders on touch</span>
<div style="left:1515.00px;top:626.60px;width:9.90px;height:9.90px;background:#3f3f46;"></div>
<span class="t" style="font-size:10.3px;line-height:13px;top:645.00px;color:#e0e0e0;left:1396.60px;transform-origin:0 50%;transform:scaleX(0.9307);">Slippage</span>
<div style="left:1515.00px;top:642.30px;width:128.60px;height:16.30px;background:#3f3f46;"></div>
<span class="t" style="font-size:10.3px;line-height:13px;top:645.00px;color:#dcdcdc;left:1520.60px;transform-origin:0 50%;transform:scaleX(0.8371);">3</span>
<span class="t" style="font-size:10.3px;line-height:13px;top:664.00px;color:#f0f0f0;font-weight:bold;left:1391.80px;transform-origin:0 50%;transform:scaleX(0.9213);">Order handling</span>
<span class="t" style="font-size:10.3px;line-height:13px;top:683.00px;color:#f0f0f0;font-weight:bold;left:1391.80px;transform-origin:0 50%;transform:scaleX(0.9561);">Order properties</span>
<span class="t" style="font-size:10.3px;line-height:13px;top:881.00px;color:#dcdcdc;font-style:italic;right:36.20px;transform-origin:100% 50%;transform:scaleX(0.8759);">template</span>
<div style="left:1370.00px;top:897.00px;width:280.60px;height:1.00px;background:#38383b;"></div>
<div style="left:1564.00px;top:903.00px;width:80.60px;height:22.70px;background:#2a2a2c;box-shadow:inset 0 0 0 1px #434346;"></div>
<span class="t" style="font-size:13px;line-height:17px;top:906.00px;color:#dcdcdc;left:1304.00px;width:600px;text-align:center;transform-origin:50% 50%;transform:scaleX(0.8592);">Run</span>
<div style="left:30.00px;top:945.10px;width:1620.60px;height:44.70px;background:#2d2d30;box-shadow:inset 0 0 0 1.2px #3a3a3d;"></div>
<div style="left:31.20px;top:946.30px;width:1618.20px;height:21.50px;background:#1d1d1d;"></div>
<div style="left:44.60px;top:968.30px;width:1604.80px;height:17.50px;background:linear-gradient(#404042,#2f2f31);"></div>
<div style="left:31.20px;top:968.30px;width:13.40px;height:17.50px;background:#313134;"></div>
<div style="left:116.70px;top:946.30px;width:1.00px;height:42.30px;background:#3e3e40;"></div>
<div style="left:225.80px;top:946.30px;width:1.00px;height:42.30px;background:#3e3e40;"></div>
<div style="left:335.00px;top:946.30px;width:1.00px;height:42.30px;background:#3e3e40;"></div>
<div style="left:443.30px;top:946.30px;width:1.00px;height:42.30px;background:#3e3e40;"></div>
<div style="left:551.60px;top:946.30px;width:1.00px;height:42.30px;background:#3e3e40;"></div>
<div style="left:660.00px;top:946.30px;width:1.00px;height:42.30px;background:#3e3e40;"></div>
<div style="left:768.80px;top:946.30px;width:1.00px;height:42.30px;background:#3e3e40;"></div>
<div style="left:877.80px;top:946.30px;width:1.00px;height:42.30px;background:#3e3e40;"></div>
<div style="left:986.70px;top:946.30px;width:1.00px;height:42.30px;background:#3e3e40;"></div>
<div style="left:1095.20px;top:946.30px;width:1.00px;height:42.30px;background:#3e3e40;"></div>
<div style="left:1203.90px;top:946.30px;width:1.00px;height:42.30px;background:#3e3e40;"></div>
<div style="left:1312.00px;top:946.30px;width:1.00px;height:42.30px;background:#3e3e40;"></div>
<div style="left:1420.80px;top:946.30px;width:1.00px;height:42.30px;background:#3e3e40;"></div>
<div style="left:1530.00px;top:946.30px;width:1.00px;height:42.30px;background:#3e3e40;"></div>
<div style="left:1638.90px;top:946.30px;width:1.00px;height:42.30px;background:#3e3e40;"></div>
<span class="t" style="font-size:10.67px;line-height:14px;top:951.00px;color:#d0d0d0;left:48.90px;transform-origin:0 50%;transform:scaleX(0.9673);">Instrument</span>
<span class="t" style="font-size:10.67px;line-height:14px;top:971.00px;color:#d0d0d0;left:48.90px;transform-origin:0 50%;transform:scaleX(0.9285);">RTY 12-25</span>
<span class="t" style="font-size:10.67px;line-height:14px;top:951.00px;color:#d0d0d0;left:122.70px;transform-origin:0 50%;transform:scaleX(0.9223);">Backtest type</span>
<span class="t" style="font-size:10.67px;line-height:14px;top:971.00px;color:#d0d0d0;left:121.50px;transform-origin:0 50%;transform:scaleX(0.9480);">Standard</span>
<span class="t" style="font-size:10.67px;line-height:14px;top:951.00px;color:#d0d0d0;left:231.80px;transform-origin:0 50%;transform:scaleX(0.9146);">Strategy</span>
<span class="t" style="font-size:10.67px;line-height:14px;top:971.00px;color:#d0d0d0;left:230.60px;transform-origin:0 50%;transform:scaleX(0.9417);">EquityPulse</span>
<span class="t" style="font-size:10.67px;line-height:14px;top:951.00px;color:#d0d0d0;left:341.00px;transform-origin:0 50%;transform:scaleX(0.9517);">Data Series</span>
<span class="t" style="font-size:10.67px;line-height:14px;top:971.00px;color:#d0d0d0;left:339.80px;transform-origin:0 50%;transform:scaleX(0.9036);">10 Minute</span>
<span class="t" style="font-size:10.67px;line-height:14px;top:951.00px;color:#d0d0d0;left:449.30px;transform-origin:0 50%;transform:scaleX(0.9152);">Start date</span>
<span class="t" style="font-size:10.67px;line-height:14px;top:971.00px;color:#d0d0d0;left:448.10px;transform-origin:0 50%;transform:scaleX(0.9504);">01/01/2019</span>
<span class="t" style="font-size:10.67px;line-height:14px;top:951.00px;color:#d0d0d0;left:557.60px;transform-origin:0 50%;transform:scaleX(0.9500);">End date</span>
<span class="t" style="font-size:10.67px;line-height:14px;top:971.00px;color:#d0d0d0;left:556.40px;transform-origin:0 50%;transform:scaleX(0.9504);">23/12/2024</span>
<span class="t" style="font-size:10.67px;line-height:14px;top:951.00px;color:#d0d0d0;left:666.00px;transform-origin:0 50%;transform:scaleX(0.9532);">Parameters</span>
<span class="t" style="font-size:10.67px;line-height:14px;top:971px;left:665.40px;width:104.1px;overflow:hidden;color:#d0d0d0;transform-origin:0 50%;transform:scaleX(0.961);">400/200/400/200/1 (Lo</span>
<span class="t" style="font-size:10.67px;line-height:14px;top:951.00px;color:#d0d0d0;left:774.80px;transform-origin:0 50%;transform:scaleX(0.9337);">Total net profit</span>
<span class="t" style="font-size:10.67px;line-height:14px;top:971.00px;color:#d0d0d0;left:773.60px;transform-origin:0 50%;transform:scaleX(0.9429);">$50,277.42</span>
<span class="t" style="font-size:10.67px;line-height:14px;top:951.00px;color:#d0d0d0;left:883.80px;transform-origin:0 50%;transform:scaleX(0.9305);">Profit factor</span>
<span class="t" style="font-size:10.67px;line-height:14px;top:971.00px;color:#d0d0d0;left:882.60px;transform-origin:0 50%;transform:scaleX(0.8819);">1.56</span>
<span class="t" style="font-size:10.67px;line-height:14px;top:951.00px;color:#d0d0d0;left:992.70px;transform-origin:0 50%;transform:scaleX(0.9206);">Max. drawdown</span>
<span class="t" style="font-size:10.67px;line-height:14px;top:971.00px;color:#d80000;left:991.50px;transform-origin:0 50%;transform:scaleX(0.9359);">-$6,994.42</span>
<span class="t" style="font-size:10.67px;line-height:14px;top:951.00px;color:#d0d0d0;left:1101.20px;transform-origin:0 50%;transform:scaleX(0.9500);">Total # of trades</span>
<span class="t" style="font-size:10.67px;line-height:14px;top:971.00px;color:#d0d0d0;left:1100.00px;transform-origin:0 50%;transform:scaleX(0.8998);">381</span>
<span class="t" style="font-size:10.67px;line-height:14px;top:951.00px;color:#d0d0d0;left:1209.90px;transform-origin:0 50%;transform:scaleX(0.9422);">Percent profitable</span>
<span class="t" style="font-size:10.67px;line-height:14px;top:971.00px;color:#d0d0d0;left:1208.70px;transform-origin:0 50%;transform:scaleX(0.9404);">54.07%</span>
<span class="t" style="font-size:10.67px;line-height:14px;top:951.00px;color:#d0d0d0;left:1318.00px;transform-origin:0 50%;transform:scaleX(0.8948);">Avg. trade</span>
<span class="t" style="font-size:10.67px;line-height:14px;top:971.00px;color:#d0d0d0;left:1316.80px;transform-origin:0 50%;transform:scaleX(0.9421);">$131.96</span>
<span class="t" style="font-size:10.67px;line-height:14px;top:951.00px;color:#d0d0d0;left:1426.80px;transform-origin:0 50%;transform:scaleX(0.9646);">Largest losing trade</span>
<span class="t" style="font-size:10.67px;line-height:14px;top:971.00px;color:#d80000;left:1425.60px;transform-origin:0 50%;transform:scaleX(0.9359);">-$1,019.18</span>
<span class="t" style="font-size:10.67px;line-height:14px;top:951.00px;color:#d0d0d0;left:1536.00px;transform-origin:0 50%;transform:scaleX(0.9642);">Pinned</span>
<div style="left:31.20px;top:985.80px;width:1618.20px;height:0.80px;background:#3d3d3f;"></div>
<div style="left:31.20px;top:986.60px;width:1618.20px;height:2.00px;background:#2b2b2d;"></div>
<div style="left:116.70px;top:985.80px;width:1.00px;height:2.80px;background:#3e3e40;"></div>
<div style="left:225.80px;top:985.80px;width:1.00px;height:2.80px;background:#3e3e40;"></div>
<div style="left:335.00px;top:985.80px;width:1.00px;height:2.80px;background:#3e3e40;"></div>
<div style="left:443.30px;top:985.80px;width:1.00px;height:2.80px;background:#3e3e40;"></div>
<div style="left:551.60px;top:985.80px;width:1.00px;height:2.80px;background:#3e3e40;"></div>
<div style="left:660.00px;top:985.80px;width:1.00px;height:2.80px;background:#3e3e40;"></div>
<div style="left:768.80px;top:985.80px;width:1.00px;height:2.80px;background:#3e3e40;"></div>
<div style="left:877.80px;top:985.80px;width:1.00px;height:2.80px;background:#3e3e40;"></div>
<div style="left:986.70px;top:985.80px;width:1.00px;height:2.80px;background:#3e3e40;"></div>
<div style="left:1095.20px;top:985.80px;width:1.00px;height:2.80px;background:#3e3e40;"></div>
<div style="left:1203.90px;top:985.80px;width:1.00px;height:2.80px;background:#3e3e40;"></div>
<div style="left:1312.00px;top:985.80px;width:1.00px;height:2.80px;background:#3e3e40;"></div>
<div style="left:1420.80px;top:985.80px;width:1.00px;height:2.80px;background:#3e3e40;"></div>
<div style="left:1530.00px;top:985.80px;width:1.00px;height:2.80px;background:#3e3e40;"></div>
<div style="left:1638.90px;top:985.80px;width:1.00px;height:2.80px;background:#3e3e40;"></div>
<div style="left:1535.70px;top:972.50px;width:10.10px;height:9.40px;background:#3f3f46;"></div>
<div style="left:1639.20px;top:969.40px;width:9.40px;height:15.80px;background:linear-gradient(90deg,#7a7a7a,#3a3a3a 55%,#2a2a2a);"></div>
<svg style="left:0;top:0;pointer-events:none" width="1680" height="1020" viewBox="0 0 1680 1020"><path d="M183.10 60.10 L186.30 64.10 L189.50 60.10" fill="none" stroke="#e2e2e2" stroke-width="1.9"/><path d="M178.10 88.00 L181.30 92.00 L184.50 88.00" fill="none" stroke="#e2e2e2" stroke-width="1.9"/><g transform="translate(1632.6 54.3)"><path d="M4.7 1.2H7.3V6H4.7Z" fill="none" stroke="#e8e8e8" stroke-width="0.9"/><path d="M3.3 6.1H8.7" stroke="#e8e8e8" stroke-width="1"/><path d="M6.3 6.2V11.6" stroke="#c0c0c0" stroke-width="1.1"/></g><path transform="translate(1376 81.80)" d="M0.4 1.6H8.2L4.3 6.2Z" fill="#e8e8e8"/><path d="M1632.70 103.30 L1635.90 107.30 L1639.10 103.30" fill="none" stroke="#e2e2e2" stroke-width="1.9"/><path d="M1632.70 123.00 L1635.90 127.00 L1639.10 123.00" fill="none" stroke="#e2e2e2" stroke-width="1.9"/><path transform="translate(1376 140.10)" d="M0.4 1.6H8.2L4.3 6.2Z" fill="#e8e8e8"/><path transform="translate(1376 253.70)" d="M0.4 1.6H8.2L4.3 6.2Z" fill="#e8e8e8"/><path d="M1632.40 274.85 L1635.60 278.85 L1638.80 274.85" fill="none" stroke="#e2e2e2" stroke-width="1.9"/><path d="M1632.70 294.55 L1635.90 298.55 L1639.10 294.55" fill="none" stroke="#e2e2e2" stroke-width="1.9"/><path d="M1632.70 314.10 L1635.90 318.10 L1639.10 314.10" fill="none" stroke="#e2e2e2" stroke-width="1.9"/><path transform="translate(1376 350.40)" d="M0.4 1.6H8.2L4.3 6.2Z" fill="#e8e8e8"/><g transform="translate(1520.9 369.90)"><rect x="0.5" y="0.5" width="9.2" height="8.4" fill="none" stroke="#d4d4d4" stroke-width="0.9"/><path d="M0.5 1.3H9.7" stroke="#d4d4d4" stroke-width="1"/><path d="M0.5 3.2H9.7M0.5 5.1H9.7M0.5 7H9.7" stroke="#b4b8c0" stroke-width="0.8"/><path d="M3.6 2.6V8.6M6.7 2.6V8.6" stroke="#8e929c" stroke-width="0.7"/></g><path d="M1632.70 371.90 L1635.90 375.90 L1639.10 371.90" fill="none" stroke="#e2e2e2" stroke-width="1.9"/><g transform="translate(1520.9 390.45)"><rect x="0.5" y="0.5" width="9.2" height="8.4" fill="none" stroke="#d4d4d4" stroke-width="0.9"/><path d="M0.5 1.3H9.7" stroke="#d4d4d4" stroke-width="1"/><path d="M0.5 3.2H9.7M0.5 5.1H9.7M0.5 7H9.7" stroke="#b4b8c0" stroke-width="0.8"/><path d="M3.6 2.6V8.6M6.7 2.6V8.6" stroke="#8e929c" stroke-width="0.7"/></g><path d="M1632.70 392.45 L1635.90 396.45 L1639.10 392.45" fill="none" stroke="#e2e2e2" stroke-width="1.9"/><path d="M1632.70 413.05 L1635.90 417.05 L1639.10 413.05" fill="none" stroke="#e2e2e2" stroke-width="1.9"/><path transform="translate(1515 430.50)" d="M2.5 4.7L4.2 6.9L6.9 3.5" fill="none" stroke="#e0e0e0" stroke-width="1.05"/><path transform="translate(1376 450.40)" d="M0.4 1.6H8.2L4.3 6.2Z" fill="#e8e8e8"/><path transform="translate(1515 468.50)" d="M2.5 4.7L4.2 6.9L6.9 3.5" fill="none" stroke="#e0e0e0" stroke-width="1.05"/><path d="M1632.70 490.85 L1635.90 494.85 L1639.10 490.85" fill="none" stroke="#e2e2e2" stroke-width="1.9"/><path d="M1632.70 511.55 L1635.90 515.55 L1639.10 511.55" fill="none" stroke="#e2e2e2" stroke-width="1.9"/><path transform="translate(1376 548.40)" d="M0.4 1.6H8.2L4.3 6.2Z" fill="#e8e8e8"/><path d="M1632.70 569.60 L1635.90 573.60 L1639.10 569.60" fill="none" stroke="#e2e2e2" stroke-width="1.9"/><path d="M1632.70 590.75 L1635.90 594.75 L1639.10 590.75" fill="none" stroke="#e2e2e2" stroke-width="1.9"/><path transform="translate(1376 664.80)" d="M1.4 1.1L5.9 5L1.4 8.9Z" fill="#e8e8e8"/><path transform="translate(1376 683.60)" d="M1.4 1.1L5.9 5L1.4 8.9Z" fill="#e8e8e8"/><path transform="translate(1535.7 972.5)" d="M2 4.6L4.1 6.8L8 2.6" fill="none" stroke="#f0f0f0" stroke-width="1.6"/><path transform="translate(1640 946.6)" d="M1.6 6.6H7.4L4.5 3.6Z M1.6 13.6H7.4L4.5 16.8Z" fill="#f0f0f0"/></svg>
</body></html>
